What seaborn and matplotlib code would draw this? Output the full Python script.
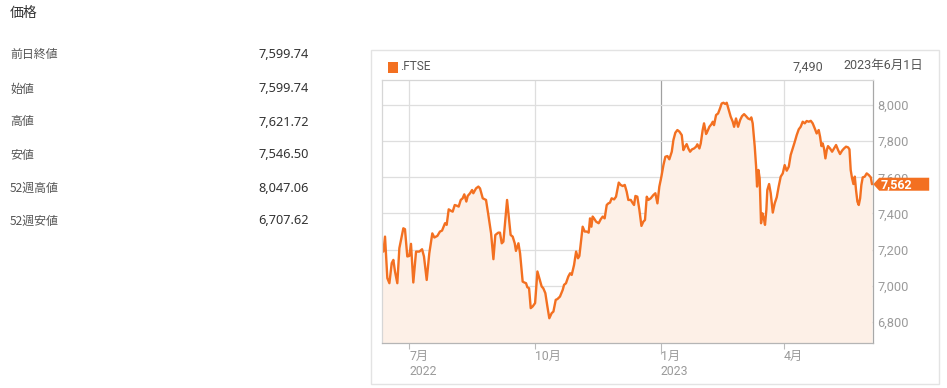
import numpy as np
import pandas as pd
import matplotlib
matplotlib.use("Agg")
import matplotlib.pyplot as plt
import matplotlib.transforms as mtransforms
from matplotlib.patches import Rectangle, Polygon
import seaborn as sns

# ---------------- data ----------------
stat_labels = ["前日終値", "始値", "高値", "安値", "52週高値", "52週安値"]
stat_values = ["7,599.74", "7,599.74", "7,621.72", "7,546.50", "8,047.06", "6,707.62"]

series_name = ".FTSE"
header_value = "7,490"
header_date = "2023年6月1日"

base_date = "2022-07-01"
# days after 2022-07-01 for each sampled point
day_offsets = [
    -20.2, -19.0, -17.8, -16.1, -14.6, -12.9, -11.7, -10.5, -8.8, -7.3, -4.4, -3.2, -1.5, 0.0, 1.2, 2.9,
    4.9, 7.3, 9.3, 10.7, 12.7, 14.6, 16.8, 18.3, 20.5, 22.4, 23.9, 26.1, 27.3, 28.8, 30.2, 31.7, 33.2,
    35.1, 36.1, 37.6, 39.0, 40.2, 41.7, 42.7, 44.4, 45.9, 46.8, 48.8, 50.5, 51.7, 53.7, 56.1, 57.8, 59.8,
    61.5, 62.9, 65.1, 66.3, 67.6, 68.8, 70.0, 71.5, 72.7, 74.1, 75.6, 77.1, 78.0, 79.8, 81.0, 82.9, 84.1,
    85.4, 86.3, 87.6, 88.8, 90.2, 92.0, 93.7, 95.1, 96.8, 98.0, 99.5, 101.0, 102.4, 104.1, 105.4, 107.1,
    108.3, 110.2, 112.2, 113.2, 114.6, 116.3, 117.6, 118.8, 120.5, 122.0, 123.4, 124.4, 125.6, 126.8,
    128.3, 129.8, 131.2, 132.2, 133.2, 134.1, 135.1, 136.6, 138.5, 140.0, 141.5, 142.9, 144.4, 145.6,
    146.8, 148.0, 149.8, 151.2, 153.2, 154.6, 156.1, 157.6, 159.0, 160.2, 162.0, 163.2, 164.4, 165.4,
    166.8, 168.3, 169.8, 171.2, 172.4, 173.7, 174.9, 176.6, 178.5, 180.0, 181.5, 182.9, 184.4, 185.9,
    187.3, 188.8, 190.2,
    192.0, 193.2, 194.6, 196.1, 197.6, 199.3, 200.5, 201.7, 202.9, 204.1, 205.4, 206.8, 208.3, 209.8,
    210.7, 212.2, 213.2, 214.6, 215.6, 217.1, 218.0, 219.5, 220.9, 222.0, 222.9, 224.4, 225.9, 227.3,
    228.5, 229.8, 231.2, 232.2, 233.7, 235.1, 236.6, 237.6, 239.0, 240.5, 242.0, 243.4, 244.9, 246.3,
    247.8, 249.3, 250.2, 251.2, 252.7, 253.7, 254.4, 255.4, 256.3, 257.3, 258.3, 259.3, 260.2, 261.2,
    261.9, 263.2, 264.4, 265.9, 267.3, 268.8, 270.2, 271.7, 273.2, 274.6, 276.1, 277.6, 279.0, 280.5,
    282.0, 283.4, 284.9, 286.3, 287.8, 289.3, 290.7, 292.2, 293.7, 295.1, 296.6, 298.0, 299.5, 300.5,
    301.5, 302.4, 303.4, 304.4, 305.4, 306.3, 307.8, 309.3, 310.7, 312.2, 313.7, 315.1, 316.6, 318.0,
    319.5, 321.0, 322.0, 322.9, 323.9, 324.9, 325.9, 326.8, 327.8, 328.8, 329.8, 330.7, 331.7, 333.2,
    334.6, 336.1, 337.6, 338.5,
]
ftse_close = [
    7198, 7189, 7272, 7042, 7014, 7125, 7143, 7079, 7014, 7208, 7318, 7313, 7162, 7165, 7232, 7018,
    7189, 7189, 7202, 7162, 7032, 7180, 7290, 7267, 7276, 7300, 7305, 7346, 7337, 7423, 7416, 7410, 7447,
    7442, 7438, 7475, 7484, 7506, 7466, 7497, 7512, 7530, 7512, 7539, 7549, 7539, 7484, 7475, 7392, 7290,
    7147, 7281, 7294, 7294, 7235, 7244, 7346, 7475, 7383, 7281, 7272, 7235, 7193, 7235, 7180, 7023, 7018,
    7014, 6992, 6986, 6876, 6885, 6904, 7079, 7042, 6996, 6986, 6959, 6885, 6820, 6848, 6857, 6922,
    6926, 6940, 6977, 7005, 7014, 7051, 7069, 7060, 7115, 7189, 7152, 7165, 7244, 7327,
    7300, 7300, 7294, 7373, 7327, 7383, 7373, 7355, 7346, 7368, 7383, 7373, 7447, 7456,
    7460, 7484, 7478, 7493, 7571, 7558, 7552, 7558, 7521, 7475, 7475, 7460, 7447, 7497,
    7493, 7420, 7331, 7355, 7364, 7493, 7475, 7484, 7502, 7512, 7456, 7549, 7604, 7668,
    7714, 7718, 7700,
    7742, 7807, 7847, 7862, 7853, 7834, 7751, 7770, 7784, 7760, 7742, 7755, 7760, 7770,
    7783, 7760, 7788, 7862, 7899, 7840, 7853, 7880, 7893, 7908, 7889, 7945, 7954, 7982,
    8009, 8013, 8006, 8013, 7972, 7936, 7908, 7880, 7926, 7880, 7917, 7939, 7950, 7939,
    7926, 7921, 7932, 7899, 7770, 7659, 7549, 7641, 7595, 7346, 7401, 7373, 7337, 7420,
    7530, 7563, 7512, 7405, 7456, 7490, 7549, 7604, 7622, 7668, 7637, 7659, 7724, 7760,
    7797, 7834, 7866, 7880, 7908, 7899, 7912, 7908, 7913, 7899, 7871, 7843, 7862, 7825,
    7773, 7788, 7760, 7705, 7751, 7773, 7760, 7742, 7760, 7779, 7751, 7729, 7748, 7760,
    7770, 7766, 7755, 7641, 7595, 7563, 7604, 7530, 7466, 7447, 7484, 7558, 7600, 7604,
    7622, 7613, 7600, 7562,
]

x_range_days = [-20.3, 339.0]
y_range = [6683, 8139]
month_ticks = ["2022-07-01", "2022-10-01", "2023-01-01", "2023-04-01"]
month_labels = ["7月\n2022", "10月", "1月\n2023", "4月"]
y_ticks = [6800, 7000, 7200, 7400, 7600, 7800, 8000]

# ---------------- style ----------------
LINE = "#f37021"
FILL = "#fdf0e7"
GRID = "#dedede"
TICKTXT = "#9a9a9a"

sns.set_theme(style="white")
plt.rcParams["font.family"] = ["Roboto", "Noto Sans CJK JP", "DejaVu Sans"]

W, H = 947, 388
fig = plt.figure(figsize=(W / 100, H / 100), dpi=100)
fig.patch.set_facecolor("white")


def fx(x):
    return x / W


def fy(y):
    return 1 - y / H


JP = ["Noto Sans CJK JP", "DejaVu Sans"]
NUM = ["Noto Sans", "Noto Sans CJK JP"]

# ---------- left panel ----------
fig.text(fx(10), fy(13), "価格", family=JP, fontsize=10, color="#333333", va="center", ha="left")
row_y = [54, 89, 122, 155, 188, 221]
for lab, val, yy in zip(stat_labels, stat_values, row_y):
    fig.text(fx(10), fy(yy), lab, family=JP, fontsize=8.6, color="#555555", va="center", ha="left")
    fig.text(fx(309), fy(yy), val, family=NUM, fontsize=9.2, color="#333333", va="center", ha="right")

# ---------- chart box ----------
fig.patches.append(Rectangle((fx(371), fy(384)), fx(939) - fx(371), fy(49.5) - fy(384),
                             transform=fig.transFigure, fill=False, edgecolor="#e3e3e3",
                             linewidth=1.0, zorder=0))
fig.patches.append(Rectangle((fx(388), fy(72.5)), fx(10), fy(62) - fy(72.5),
                             transform=fig.transFigure, facecolor=LINE, edgecolor="none"))
fig.text(fx(400), fy(67), series_name, fontsize=8.6, color="#555555", va="center", ha="left")
fig.text(fx(823), fy(67), header_value, fontsize=9, color="#555555", va="center", ha="right")
fig.text(fx(923), fy(65.5), header_date, family=["Roboto", "Noto Sans CJK JP"], fontsize=9,
         color="#555555", va="center", ha="right")

# ---------- plot ----------
ax = fig.add_axes([fx(381.6), fy(343), fx(872.7) - fx(381.6), fy(80) - fy(343)])
base = pd.Timestamp(base_date)
df = pd.DataFrame({
    "date": base + pd.to_timedelta(day_offsets, unit="D"),
    "close": ftse_close,
})

ax.set_axisbelow(True)
ax.fill_between(df["date"], df["close"], y_range[0], color=FILL, linewidth=0, zorder=1)
sns.lineplot(data=df, x="date", y="close", ax=ax, color=LINE, linewidth=1.7,
             estimator=None, sort=False, zorder=3)

ax.set_xlim(base + pd.Timedelta(days=x_range_days[0]), base + pd.Timedelta(days=x_range_days[1]))
ax.set_ylim(*y_range)
ax.set_xlabel("")
ax.set_ylabel("")

ax.set_xticks(pd.to_datetime(month_ticks))
ax.set_xticklabels(month_labels, ha="left", family=["Roboto", "Noto Sans CJK JP"],
                   fontsize=8.8, color=TICKTXT, linespacing=1.25)
offset = mtransforms.ScaledTranslation(4 / 100, 0, fig.dpi_scale_trans)
for lbl in ax.get_xticklabels():
    lbl.set_transform(lbl.get_transform() + offset)
ax.tick_params(axis="x", bottom=True, length=4.5, width=0.8, color="#bbbbbb", pad=0.5)

ax.yaxis.tick_right()
ax.set_yticks(y_ticks)
ax.set_yticklabels([f"{v:,}" for v in y_ticks], fontsize=9.2, color=TICKTXT)
ax.tick_params(axis="y", right=True, length=0, pad=3.5)

ax.grid(True, color=GRID, linewidth=0.9)
xticks = ax.xaxis.get_major_ticks()
xticks[2].gridline.set_color("#a0a0a0")
xticks[2].tick1line.set_markersize(8)
xticks[2].tick1line.set_color("#a0a0a0")

for side, col in [("left", "#d6d6d6"), ("top", "#d6d6d6"), ("right", "#a8a8a8"), ("bottom", "#b5b5b5")]:
    ax.spines[side].set_visible(True)
    ax.spines[side].set_color(col)
    ax.spines[side].set_linewidth(0.9)
    ax.spines[side].set_zorder(4)

# ---------- last value badge ----------
last = ftse_close[-1]
axw = (fx(872.7) - fx(381.6)) * W
ydat_per_px = (y_range[1] - y_range[0]) / ((fy(80) - fy(343)) * H)
hh = 6.5 * ydat_per_px
trans = mtransforms.blended_transform_factory(ax.transAxes, ax.transData)
x_tip, x_a, x_b = 1 + 0.6 / axw, 1 + 6.5 / axw, 1 + 56.5 / axw
badge = Polygon([(x_tip, last), (x_a, last + hh), (x_b, last + hh), (x_b, last - hh), (x_a, last - hh)],
                closed=True, transform=trans, facecolor=LINE, edgecolor="none", clip_on=False, zorder=6)
ax.add_patch(badge)
ax.text(1 + 7.5 / axw, last, f"{last:,}", transform=trans, ha="left", va="center",
        color="white", fontsize=9, fontweight="bold", clip_on=False, zorder=7)

fig.savefig("out.png", dpi=100)
